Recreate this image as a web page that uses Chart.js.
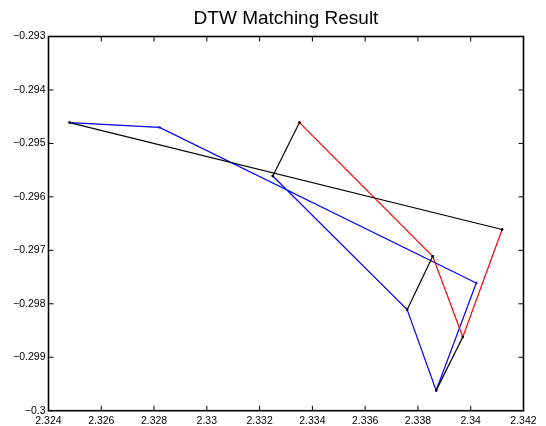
<!DOCTYPE html>
<html>
<head>
<meta charset="utf-8">
<script src="https://cdn.jsdelivr.net/npm/chart.js@4/dist/chart.umd.min.js"></script>
<style>
  html, body { margin: 0; padding: 0; background: #ffffff; }
  #wrap { width: 546px; height: 426px; }
</style>
</head>
<body>
<div id="wrap"><canvas id="c" width="546" height="426"></canvas></div>
<script>
// Axis ticks
const xTicks = [2.324, 2.326, 2.328, 2.33, 2.332, 2.334, 2.336, 2.338, 2.34, 2.342];
const yTicks = [-0.3, -0.299, -0.298, -0.297, -0.296, -0.295, -0.294, -0.293];

// Query curve (blue)
const blueX = [2.32480, 2.32821, 2.34021, 2.33869, 2.33759, 2.33250];
const blueY = [-0.29461, -0.29470, -0.29761, -0.29962, -0.29811, -0.29561];

// Template curve (red)
const redX = [2.33351, 2.33856, 2.33970, 2.34119];
const redY = [-0.29461, -0.29711, -0.29862, -0.29661];

// Warping path: index pairs (blue point, red point)
const matchBlue = [0, 5, 4, 3];
const matchRed = [3, 0, 1, 2];

const toPoints = (xs, ys) => xs.map((x, i) => ({ x: x, y: ys[i] }));

const lineStyle = (color) => ({
  borderColor: color,
  backgroundColor: color,
  borderWidth: 1.2,
  pointRadius: 1.2,
  pointBorderWidth: 0,
  pointBackgroundColor: color,
  showLine: true,
  fill: false,
  tension: 0
});

const datasets = [];
matchBlue.forEach((bi, k) => {
  const ri = matchRed[k];
  datasets.push(Object.assign({
    label: 'match ' + (k + 1),
    data: [{ x: blueX[bi], y: blueY[bi] }, { x: redX[ri], y: redY[ri] }]
  }, lineStyle('#000000')));
});
datasets.push(Object.assign({ label: 'template', data: toPoints(redX, redY) }, lineStyle('#ff0000')));
datasets.push(Object.assign({ label: 'query', data: toPoints(blueX, blueY) }, lineStyle('#0000ff')));

// Axes box with inward tick marks on all four sides
const boxPlugin = {
  id: 'axesBox',
  afterDraw(chart) {
    const ctx = chart.ctx;
    const a = chart.chartArea;
    const xs = chart.scales.x, ys = chart.scales.y;
    const len = 5;
    ctx.save();
    ctx.strokeStyle = '#000000';
    ctx.lineWidth = 1;
    ctx.beginPath();
    xTicks.forEach(v => {
      const px = xs.getPixelForValue(v);
      ctx.moveTo(px, a.bottom); ctx.lineTo(px, a.bottom - len);
      ctx.moveTo(px, a.top); ctx.lineTo(px, a.top + len);
    });
    yTicks.forEach(v => {
      const py = ys.getPixelForValue(v);
      ctx.moveTo(a.left, py); ctx.lineTo(a.left + len, py);
      ctx.moveTo(a.right, py); ctx.lineTo(a.right - len, py);
    });
    ctx.stroke();
    ctx.lineWidth = 1.6;
    ctx.strokeRect(a.left, a.top, a.right - a.left, a.bottom - a.top);
    ctx.restore();
  }
};

const fmt = (v) => {
  const s = String(+Math.abs(v).toFixed(3));
  return (v < 0 ? '\u2212' : '') + s;
};

new Chart(document.getElementById('c'), {
  type: 'scatter',
  data: { datasets: datasets },
  options: {
    responsive: false,
    animation: false,
    events: [],
    layout: { padding: { top: 0, right: 22.5, bottom: 0, left: 0 } },
    plugins: {
      legend: { display: false },
      tooltip: { enabled: false },
      title: {
        display: true,
        text: 'DTW Matching Result',
        fullSize: false,
        color: '#000000',
        font: { family: '"Liberation Sans", Arial, Helvetica, sans-serif', size: 19, weight: 'normal' },
        padding: { top: 7.6, bottom: 6.1 }
      }
    },
    scales: {
      x: {
        type: 'linear',
        min: 2.324,
        max: 2.342,
        grid: { display: false, drawTicks: false },
        border: { display: false },
        afterBuildTicks: (s) => { s.ticks = xTicks.map(v => ({ value: v })); },
        afterFit: (s) => { s.height = 15.3; },
        ticks: {
          autoSkip: false,
          maxRotation: 0,
          padding: 4,
          color: '#000000',
          font: { family: '"Liberation Sans", Arial, Helvetica, sans-serif', size: 10.5 },
          callback: (v) => fmt(v)
        }
      },
      y: {
        type: 'linear',
        min: -0.3,
        max: -0.293,
        grid: { display: false, drawTicks: false },
        border: { display: false },
        afterBuildTicks: (s) => { s.ticks = yTicks.map(v => ({ value: v })); },
        afterFit: (s) => { s.width = 48.5; },
        ticks: {
          autoSkip: false,
          padding: 3,
          color: '#000000',
          font: { family: '"Liberation Sans", Arial, Helvetica, sans-serif', size: 10.5 },
          callback: (v) => fmt(v)
        }
      }
    }
  },
  plugins: [boxPlugin]
});
</script>
</body>
</html>
